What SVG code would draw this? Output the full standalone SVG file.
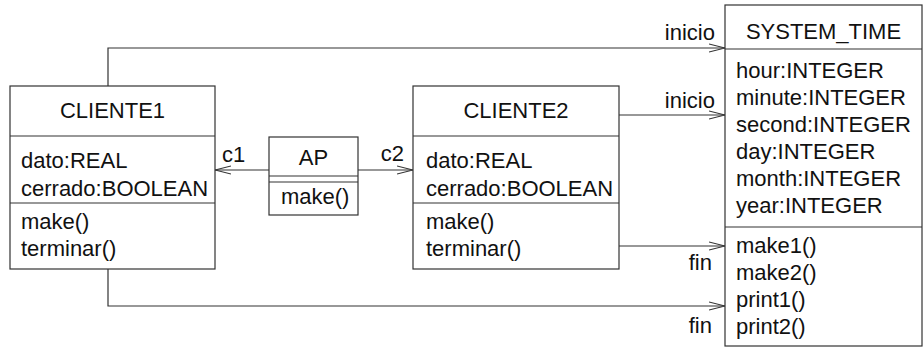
<svg xmlns="http://www.w3.org/2000/svg" width="923" height="349" viewBox="0 0 923 349">
  <style>
    .box { fill: #ffffff; stroke: #333333; stroke-width: 1.2; }
    .sep { stroke: #333333; stroke-width: 1.2; fill: none; }
    .txt { font-family: "Liberation Sans", Arial, sans-serif; font-size: 22px; fill: #111111; }
    .mid { text-anchor: middle; }
    .end { text-anchor: end; }
    .conn { fill: none; stroke: #333333; stroke-width: 1.2; }
  </style>
  <defs>
    <marker id="open" viewBox="0 0 16 10" refX="16" refY="5" markerWidth="16" markerHeight="10" markerUnits="userSpaceOnUse" orient="auto">
      <path d="M0,1 L16,5 L0,9" fill="none" stroke="#333333" stroke-width="1.2"/>
    </marker>
  </defs>

  <rect width="923" height="349" fill="#ffffff"/>

  <!-- associations -->
  <g id="connectors">
    <path class="conn" d="M108,86 V48 H725" marker-end="url(#open)"/>
    <path class="conn" d="M619,115 H725" marker-end="url(#open)"/>
    <path class="conn" d="M619,246 H725" marker-end="url(#open)"/>
    <path class="conn" d="M108,269 V306 H725" marker-end="url(#open)"/>
    <path class="conn" d="M269,170 H215" marker-end="url(#open)"/>
    <path class="conn" d="M358,170 H413" marker-end="url(#open)"/>
    <text class="txt" x="222" y="162">c1</text>
    <text class="txt end" x="404" y="161">c2</text>
    <text class="txt end" x="715" y="40">inicio</text>
    <text class="txt end" x="715" y="108">inicio</text>
    <text class="txt end" x="712" y="270">fin</text>
    <text class="txt end" x="712" y="333">fin</text>
  </g>

  <!-- class CLIENTE1 -->
  <g id="cliente1">
    <rect class="box" x="10" y="86" width="205" height="183"/>
    <line class="sep" x1="10" y1="136" x2="215" y2="136"/>
    <line class="sep" x1="10" y1="203" x2="215" y2="203"/>
    <text class="txt mid" x="112.5" y="118">CLIENTE1</text>
    <text class="txt" x="21" y="168">dato:REAL</text>
    <text class="txt" x="21" y="196">cerrado:BOOLEAN</text>
    <text class="txt" x="21" y="229">make()</text>
    <text class="txt" x="21" y="256">terminar()</text>
  </g>

  <!-- class AP -->
  <g id="ap">
    <rect class="box" x="269" y="137" width="89" height="78"/>
    <line class="sep" x1="269" y1="176" x2="358" y2="176"/>
    <line class="sep" x1="269" y1="182" x2="358" y2="182"/>
    <text class="txt mid" x="313.5" y="165">AP</text>
    <text class="txt" x="281" y="204">make()</text>
  </g>

  <!-- class CLIENTE2 -->
  <g id="cliente2">
    <rect class="box" x="413" y="86" width="206" height="183"/>
    <line class="sep" x1="413" y1="136" x2="619" y2="136"/>
    <line class="sep" x1="413" y1="203" x2="619" y2="203"/>
    <text class="txt mid" x="516" y="118">CLIENTE2</text>
    <text class="txt" x="426" y="168">dato:REAL</text>
    <text class="txt" x="426" y="196">cerrado:BOOLEAN</text>
    <text class="txt" x="426" y="229">make()</text>
    <text class="txt" x="426" y="256">terminar()</text>
  </g>

  <!-- class SYSTEM_TIME -->
  <g id="system_time">
    <rect class="box" x="725" y="5" width="197" height="341"/>
    <line class="sep" x1="725" y1="49" x2="922" y2="49"/>
    <line class="sep" x1="725" y1="227" x2="922" y2="227"/>
    <text class="txt mid" x="823.5" y="39">SYSTEM_TIME</text>
    <text class="txt" x="736" y="78">hour:INTEGER</text>
    <text class="txt" x="736" y="105">minute:INTEGER</text>
    <text class="txt" x="736" y="132">second:INTEGER</text>
    <text class="txt" x="736" y="159">day:INTEGER</text>
    <text class="txt" x="736" y="186">month:INTEGER</text>
    <text class="txt" x="736" y="213">year:INTEGER</text>
    <text class="txt" x="736" y="253">make1()</text>
    <text class="txt" x="736" y="280">make2()</text>
    <text class="txt" x="736" y="307">print1()</text>
    <text class="txt" x="736" y="334">print2()</text>
  </g>
</svg>
